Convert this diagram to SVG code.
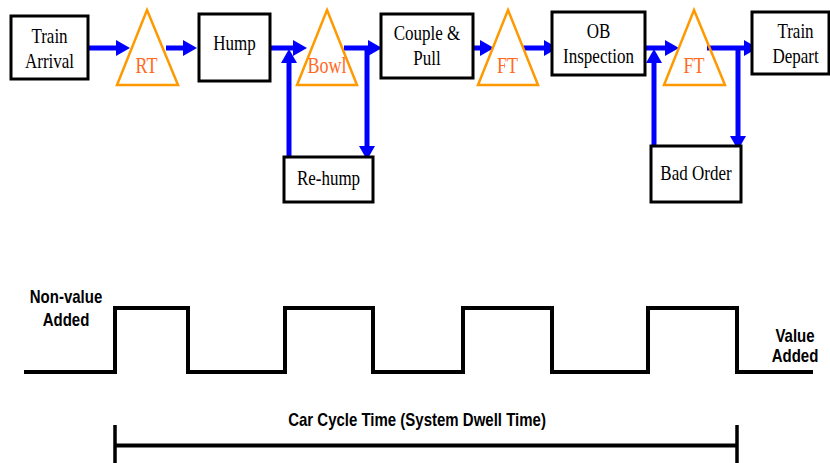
<svg xmlns="http://www.w3.org/2000/svg" width="830" height="463" viewBox="0 0 830 463">
<style>
.box{fill:#fff;stroke:#000;stroke-width:3}
.tri{fill:none;stroke:#FF9900;stroke-width:2.5;stroke-linejoin:miter}
.t{font-family:"Liberation Serif","Times New Roman",serif;font-size:17px;fill:#000;text-anchor:middle}
.tt{font-family:"Liberation Serif","Times New Roman",serif;font-size:18px;fill:#FF6A1F;text-anchor:middle}
.c{fill:none;stroke:#0000FF;stroke-width:5;marker-end:url(#ah)}
.b{font-family:"Liberation Sans",Arial,sans-serif;font-size:15px;font-weight:bold;fill:#000;text-anchor:middle}
.w{fill:none;stroke:#000;stroke-width:4}
</style>
<defs>
<marker id="ah" markerUnits="userSpaceOnUse" viewBox="0 -8 14 16" refX="0" refY="0" markerWidth="14" markerHeight="16" orient="auto">
<path d="M0,-8 L14,0 L0,8 z" fill="#0000FF"/>
</marker>
</defs>
<g id="connectors">
<path class="c" d="M88,48 H116"/>
<path class="c" d="M166,48 H183"/>
<path class="c" d="M270,48 H293"/>
<path class="c" d="M344,48 H368"/>
<path class="c" d="M367,48 V146"/>
<path class="c" d="M289,160 V63"/>
<path class="c" d="M473,48 H480"/>
<path class="c" d="M523,48 H544"/>
<path class="c" d="M645,48 H665"/>
<path class="c" d="M654,147 V63"/>
<path class="c" d="M707,48 H744"/>
<path class="c" d="M738,48 V136"/>
</g>
<g id="train-arrival"><rect class="box" x="11" y="16" width="77" height="63"/>
<text class="t" transform="translate(49.5,42.7) scale(1,1.25)">Train</text>
<text class="t" transform="translate(49.5,67.7) scale(1,1.25)">Arrival</text></g>
<g id="rt"><polygon class="tri" points="147,10 178,85 117,85"/>
<text class="tt" transform="translate(146.5,72.7) scale(1,1.25)">RT</text></g>
<g id="hump"><rect class="box" x="199" y="14" width="71" height="67"/>
<text class="t" transform="translate(234.5,50) scale(1,1.25)">Hump</text></g>
<g id="bowl"><polygon class="tri" points="327,10 357,85 297,85"/>
<text class="tt" transform="translate(327,72.7) scale(1,1.25)">Bowl</text></g>
<g id="re-hump"><rect class="box" x="284" y="157" width="89" height="45"/>
<text class="t" transform="translate(328.5,185) scale(1,1.25)">Re-hump</text></g>
<g id="couple-pull"><rect class="box" x="381" y="14" width="92" height="64"/>
<text class="t" transform="translate(427,40) scale(1,1.25)">Couple &amp;</text>
<text class="t" transform="translate(427,65) scale(1,1.25)">Pull</text></g>
<g id="ft1"><polygon class="tri" points="508,10 538,85 478,85"/>
<text class="tt" transform="translate(507.5,72.7) scale(1,1.25)">FT</text></g>
<g id="ob-inspection"><rect class="box" x="552" y="12" width="93" height="63"/>
<text class="t" transform="translate(598.5,38.3) scale(1,1.25)">OB</text>
<text class="t" transform="translate(598.5,63.3) scale(1,1.25)">Inspection</text></g>
<g id="ft2"><polygon class="tri" points="694,10 725,85 664,85"/>
<text class="tt" transform="translate(694,72.7) scale(1,1.25)">FT</text></g>
<g id="bad-order"><rect class="box" x="651" y="146" width="90" height="56"/>
<text class="t" transform="translate(696,180) scale(1,1.25)">Bad Order</text></g>
<g id="train-depart"><rect class="box" x="752" y="12" width="77" height="62"/>
<text class="t" transform="translate(795.5,38.3) scale(1,1.25)">Train</text>
<text class="t" transform="translate(795.5,63.3) scale(1,1.25)">Depart</text></g>
<g id="waveform">
<path class="w" d="M24,372 H115 V308 H188 V372 H285 V308 H373 V372 H463 V308 H552 V372 H648 V308 H737 V372 H813"/>
<text class="b" transform="translate(66,303) scale(1,1.25)">Non-value</text>
<text class="b" transform="translate(66,326) scale(1,1.25)">Added</text>
<text class="b" transform="translate(795,342) scale(1,1.25)">Value</text>
<text class="b" transform="translate(795,362) scale(1,1.25)">Added</text>
</g>
<g id="cycle-time">
<text class="b" transform="translate(417,426) scale(1,1.25)">Car Cycle Time (System Dwell Time)</text>
<path class="w" d="M115,445.5 H737"/>
<path class="w" d="M115,425 V463 M737,425 V463" style="stroke-width:3.5"/>
</g>
</svg>
